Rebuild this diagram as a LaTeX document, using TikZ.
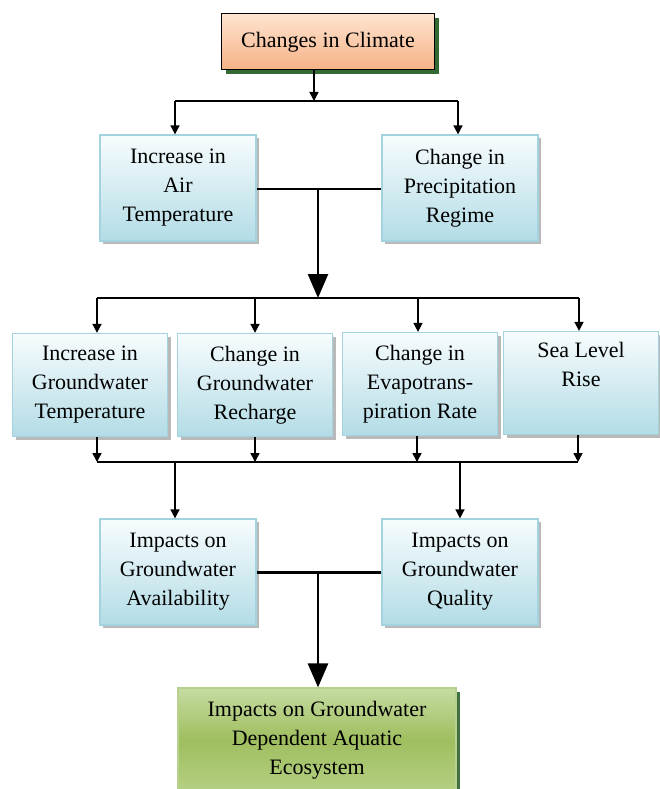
\documentclass[tikz,border=0pt]{standalone}
\usepackage{fontspec}
\setmainfont{Liberation Serif}
\usetikzlibrary{arrows.meta}
\usetikzlibrary{shadows}
\definecolor{blutop}{HTML}{F7FCFD}
\definecolor{blubot}{HTML}{B3DCE6}
\definecolor{bluedge}{HTML}{A4D3DF}
\definecolor{orgtop}{HTML}{FDE4D0}
\definecolor{orgbot}{HTML}{F6B185}
\definecolor{grntop}{HTML}{C6DCA2}
\definecolor{grnmid}{HTML}{9FBE5F}
\definecolor{grnbot}{HTML}{B5D083}
\definecolor{grnedge}{HTML}{B9D18E}
\tikzset{
  boxtext/.style={align=center, font=\fontsize{22}{29}\selectfont, inner sep=4pt},
  blubox/.style={boxtext, draw=bluedge, line width=1.2pt,
    top color=blutop, bottom color=blubot,
    minimum width=156pt, minimum height=106pt,
    drop shadow={shadow xshift=3pt, shadow yshift=-3pt, fill=gray!55, opacity=1}},
  rowbox/.style={minimum width=155pt, minimum height=103pt},
  topbox/.style={boxtext, draw=black, line width=1pt,
    top color=orgtop, bottom color=orgbot,
    minimum width=213pt, minimum height=56pt,
    drop shadow={shadow xshift=4pt, shadow yshift=-4pt, fill=black!65!green!60!gray, opacity=1}},
  endbox/.style={boxtext, draw=grnedge, line width=1.2pt,
    top color=grntop, bottom color=grnbot, middle color=grnmid,
    minimum width=278pt, minimum height=104pt,
    drop shadow={shadow xshift=4pt, shadow yshift=-4pt, fill=black!60!green!50!gray, opacity=1}},
  line/.style={draw=black, line width=1.5pt},
  arr/.style={line, -{Triangle[length=9pt,width=9pt]}},
  bigarr/.style={draw=black, line width=2.6pt, -{Triangle[length=24pt,width=20pt]}}
}

\begin{document}
\begin{tikzpicture}[x=1pt,y=-1pt]
  \useasboundingbox (0,0) rectangle (659,789);
  \node[topbox] (clim) at (328,42) {Changes in Climate};
  \node[blubox] (air)  at (178,188) {Increase in\\Air\\Temperature};
  \node[blubox] (prec) at (460,188) {Change in\\Precipitation\\Regime};
  \node[blubox,rowbox] (gwt)  at (90,385)  {Increase in\\Groundwater\\Temperature};
  \node[blubox,rowbox] (rech) at (255,385) {Change in\\Groundwater\\Recharge};
  \node[blubox,rowbox] (evap) at (420,384) {Change in\\Evapotrans-\\piration Rate};
  \node[blubox,rowbox] (sea)  at (581,383) {Sea Level\\Rise\\\strut};
  \node[blubox] (avail) at (178,572) {Impacts on\\Groundwater\\Availability};
  \node[blubox] (qual)  at (460,572) {Impacts on\\Groundwater\\Quality};
  \node[endbox] (eco) at (317,740) {Impacts on Groundwater\\Dependent Aquatic\\Ecosystem};

  % split below the climate box
  \coordinate (s1) at (314,101);
  \coordinate (s1l) at (175,101);
  \coordinate (s1r) at (458,101);
  \draw[arr] (s1 |- clim.south) -- (s1);
  \draw[line] (s1l) -- (s1r);
  \draw[arr] (s1l) -- (s1l |- air.north);
  \draw[arr] (s1r) -- (s1r |- prec.north);

  % join of air and precipitation
  \coordinate (s2) at (318,189);
  \coordinate (s3) at (318,298);
  \draw[line, line width=2.2pt] (air.east |- s2) -- (prec.west |- s2);
  \draw[bigarr] (s2) -- (s3);

  % fan out to the four effects
  \coordinate (t1) at (97,298);
  \coordinate (t2) at (255,298);
  \coordinate (t3) at (418,298);
  \coordinate (t4) at (579,298);
  \draw[line] (t1) -- (t4);
  \draw[arr] (t1) -- (t1 |- gwt.north);
  \draw[arr] (t2) -- (t2 |- rech.north);
  \draw[arr] (t3) -- (t3 |- evap.north);
  \draw[arr] (t4) -- (t4 |- sea.north);

  % collect the four effects
  \coordinate (b1) at (97,462);
  \coordinate (b2) at (255,462);
  \coordinate (b3) at (417,462);
  \coordinate (b4) at (578,462);
  \draw[arr] (b1 |- gwt.south) -- (b1);
  \draw[arr] (b2 |- rech.south) -- (b2);
  \draw[arr] (b3 |- evap.south) -- (b3);
  \draw[arr] (b4 |- sea.south) -- (b4);
  \draw[line] (b1) -- (b4);
  \coordinate (u1) at (175,462);
  \coordinate (u2) at (460,462);
  \draw[arr] (u1) -- (u1 |- avail.north);
  \draw[arr] (u2) -- (u2 |- qual.north);

  % join of the two impacts
  \coordinate (s5) at (318,572);
  \draw[line, line width=3pt] (avail.east |- s5) -- (qual.west |- s5);
  \draw[bigarr] (s5) -- (s5 |- eco.north);
\end{tikzpicture}
\end{document}
